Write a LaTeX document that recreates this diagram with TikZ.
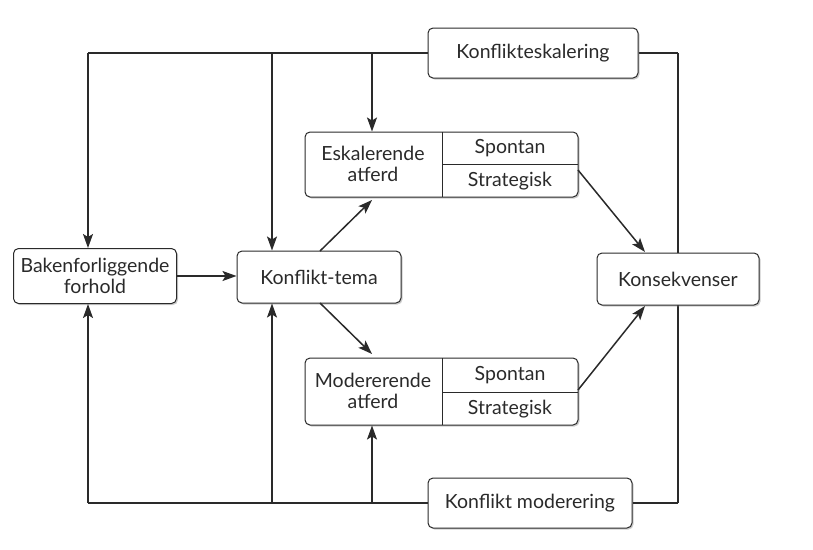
\documentclass[tikz,border=0pt]{standalone}
\usepackage{fontspec}
\setmainfont{Lato}
\usetikzlibrary{arrows.meta,shadows}
\definecolor{ink}{HTML}{2A2A2A}
\tikzset{
  box/.style={draw=ink, line width=1pt, rounded corners=5pt, fill=white,
    drop shadow={opacity=0.4, shadow xshift=1.5pt, shadow yshift=-1.5pt},
    inner sep=0pt, align=center, text=ink, font=\fontsize{19.5}{21}\selectfont},
  lbl/.style={inner sep=0pt, align=center, text=ink, font=\fontsize{19.5}{21}\selectfont},
  ln/.style={draw=ink, line width=1.5pt},
  arr/.style={ln, -{Stealth[length=14pt,width=10pt,inset=3pt]}}
}
\begin{document}
\begin{tikzpicture}[x=1pt,y=-1pt]
\useasboundingbox (0,0) rectangle (813,549);
% corner / junction coordinates
\coordinate (tl) at (88,53);
\coordinate (t2) at (272,53);
\coordinate (t3) at (372,53);
\coordinate (tr) at (678,53);
\coordinate (bl) at (88,503);
\coordinate (b2) at (272,503);
\coordinate (b3) at (372,503);
\coordinate (br) at (678,503);
% frame lines
\draw[ln] (tl) -- (t3);
\draw[ln] (bl) -- (b3);
\draw[ln] (tr) -- (br);
% top / bottom boxes
\node[box, minimum width=210, minimum height=50] (ke) at (533,53) {Konflikteskalering};
\node[box, minimum width=204, minimum height=50] (km) at (530,503) {Konflikt moderering};
\draw[ln] (t3) -- (ke.west);
\draw[ln] (ke.east) -- (tr);
\draw[ln] (b3) -- (km.west);
\draw[ln] (km.east) -- (br);
% main boxes
\node[box, minimum width=163, minimum height=55] (bak) at (95,276) {Bakenforliggende\\forhold};
\node[box, minimum width=164, minimum height=52] (kt) at (319,277) {Konflikt-tema};
\node[box, minimum width=162, minimum height=52] (kons) at (678,279) {Konsekvenser};
\node[box, minimum width=273, minimum height=65] (esk) at (441.5,164.5) {};
\node[box, minimum width=273, minimum height=67] (mod) at (441.5,391.5) {};
% divisions of the behaviour boxes
\draw[draw=ink, line width=1pt] (442,132) -- (442,197);
\draw[draw=ink, line width=1pt] (442,164) -- (578,164);
\draw[draw=ink, line width=1pt] (442,358) -- (442,425);
\draw[draw=ink, line width=1pt] (442,392) -- (578,392);
\node[lbl] (eskt) at (373,164) {Eskalerende\\atferd};
\node[lbl] (esks) at (510,148) {Spontan};
\node[lbl] (eskg) at (510,181) {Strategisk};
\node[lbl] (modt) at (373,391) {Modererende\\atferd};
\node[lbl] (mods) at (510,375) {Spontan};
\node[lbl] (modg) at (510,409) {Strategisk};
% vertical arrows
\draw[arr] (tl) -- (tl |- bak.north);
\draw[arr] (t2) -- (t2 |- kt.north);
\draw[arr] (t3) -- (t3 |- esk.north);
\draw[arr] (bl) -- (bl |- bak.south);
\draw[arr] (b2) -- (b2 |- kt.south);
\draw[arr] (b3) -- (b3 |- mod.south);
% flow arrows
\draw[arr] (bak.east) -- (kt.west |- bak.east);
\draw[arr] (320,251) -- (372,200);
\draw[arr] (320,303) -- (372,354);
\draw[arr] (578,170) -- (645,252);
\draw[arr] (578,390) -- (645,306);
\end{tikzpicture}
\end{document}
